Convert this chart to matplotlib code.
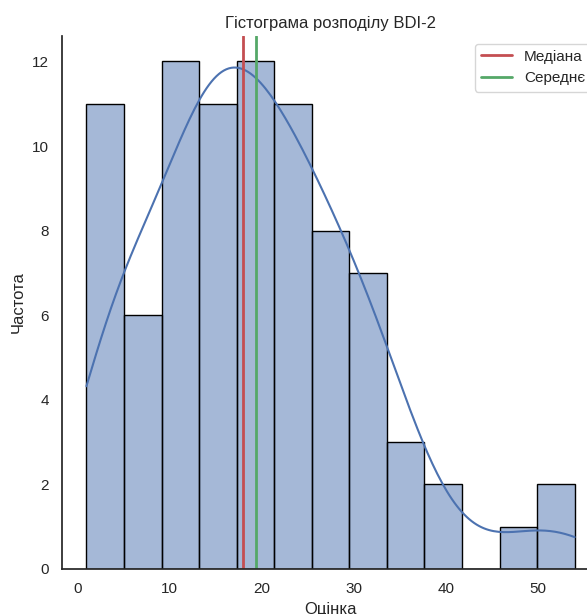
import numpy as np
import matplotlib.pyplot as plt
import seaborn as sns

# BDI-2 scores of the sample
scores = [
    1, 2, 2, 3, 3, 4, 4, 4, 5, 5, 5,
    6, 7, 7, 8, 9, 9,
    10, 11, 11, 12, 12, 12, 13, 13, 13, 13, 13, 13,
    14, 14, 15, 15, 15, 16, 16, 16, 17, 17, 17,
    18, 18, 18, 18, 19, 19, 19, 20, 20, 21, 21, 21,
    22, 22, 22, 23, 23, 23, 24, 24, 25, 25, 25,
    26, 26, 27, 27, 28, 28, 29, 29,
    30, 30, 31, 32, 32, 33, 33,
    34, 34, 35,
    38, 39,
    47,
    51, 54,
]
n_bins = 13

sns.set_theme(style='white')
plt.rcParams['font.family'] = ['Liberation Sans', 'DejaVu Sans']

fig = plt.figure(figsize=(5.87, 6.14), dpi=100)
ax = fig.add_axes([0.1056, 0.0733, 0.915, 0.868])

sns.histplot(scores, bins=n_bins, kde=True, edgecolor='black', ax=ax)

median = np.median(scores)
mean = np.mean(scores)
ax.axvline(median, color='r', linewidth=2, label='Медіана')
ax.axvline(mean, color='g', linewidth=2, label='Середнє')

ax.set_title('Гістограма розподілу BDI-2')
ax.set_xlabel('Оцінка')
ax.set_ylabel('Частота')
ax.legend()
sns.despine(ax=ax)

fig.savefig('out.png', dpi=100)
